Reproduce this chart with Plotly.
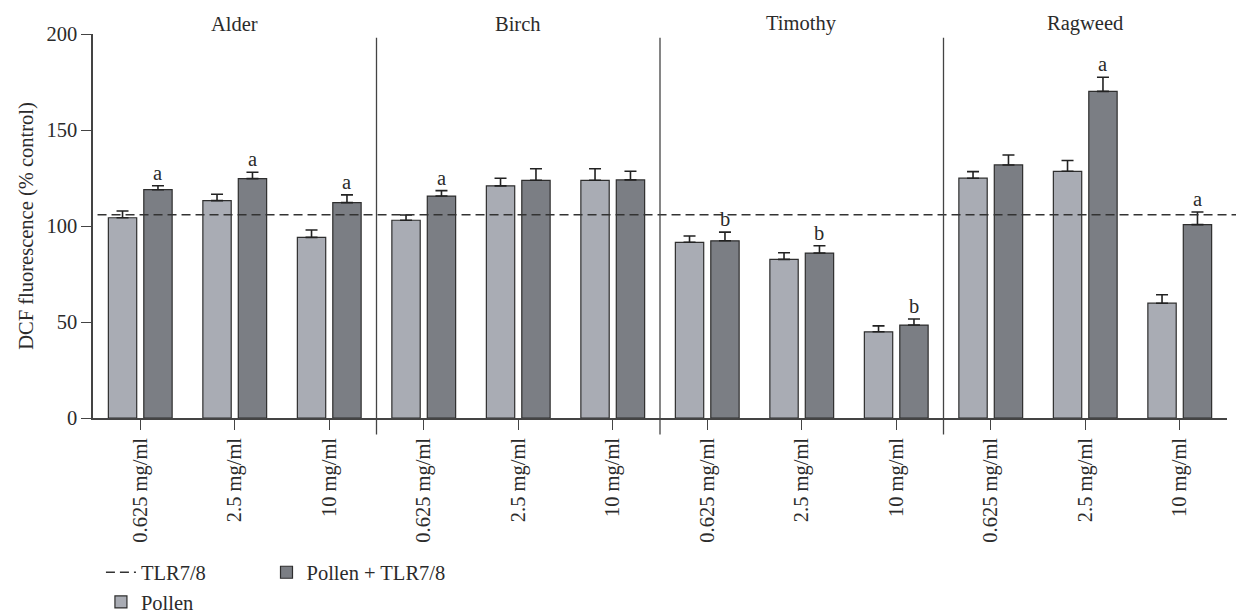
import plotly.graph_objects as go

# ---------------- data ----------------
allergens = ["Alder", "Birch", "Timothy", "Ragweed"]
doses = ["0.625 mg/ml", "2.5 mg/ml", "10 mg/ml"]

pollen_vals = [104.3, 113.2, 94.1,   103.0, 120.9, 123.8,   91.5, 82.6, 44.9,   124.9, 128.5, 59.8]
pollen_err  = [3.5,   3.3,   3.8,    2.7,   4.0,   6.0,     3.3,  3.5,  3.1,    3.4,   5.6,   4.4]
combo_vals  = [118.9, 124.7, 112.2,  115.6, 123.8, 124.0,   92.3, 85.9, 48.4,   131.8, 170.1, 100.7]
combo_err   = [2.1,   3.3,   4.0,    2.8,   6.0,   4.5,     4.5,  3.8,  3.2,    5.2,   7.4,   6.6]
combo_sig   = ["a", "a", "a",  "a", "", "",  "b", "b", "b",  "", "a", "a"]
tlr_value = 105.8

tick_labels = [d for _ in allergens for d in doses]
xpos = list(range(len(tick_labels)))

FONT = "Liberation Serif"
FS = 20.5
TXT = "#2b2b2b"
LIGHT = "#a9acb4"
DARK = "#7b7e84"
EDGE = "#2e2e2e"

fig = go.Figure()

fig.add_trace(go.Bar(
    x=xpos, y=pollen_vals, name="Pollen",
    marker=dict(color=LIGHT, line=dict(color=EDGE, width=1.2)),
    error_y=dict(type="data", array=pollen_err, arrayminus=[0]*len(pollen_err),
                 symmetric=False, color="#222", thickness=1.6, width=6),
    legend="legend", legendrank=2,
))
fig.add_trace(go.Bar(
    x=xpos, y=combo_vals, name="Pollen + TLR7/8",
    marker=dict(color=DARK, line=dict(color=EDGE, width=1.2)),
    error_y=dict(type="data", array=combo_err, arrayminus=[0]*len(combo_err),
                 symmetric=False, color="#222", thickness=1.6, width=6),
    legend="legend2",
))
fig.add_trace(go.Scatter(
    x=[None], y=[None], mode="lines", name="TLR7/8",
    line=dict(color="#333", width=1.5, dash="9px,5px"),
    legend="legend", legendrank=1,
))

# TLR7/8 reference line
fig.add_shape(type="line", xref="paper", yref="y", x0=0.004, x1=1.03,
              y0=tlr_value, y1=tlr_value,
              line=dict(color="#333", width=1.5, dash="9px,5px"), layer="above")

# group separators
for k in range(1, len(allergens)):
    xs = k * len(doses) - 0.5
    fig.add_shape(type="line", xref="x", yref="paper", x0=xs, x1=xs,
                  y0=-0.043, y1=0.99, line=dict(color="#444", width=1.3))

# group titles
for k, name in enumerate(allergens):
    fig.add_annotation(x=k * len(doses) + 1, y=1.0, xref="x", yref="paper",
                       text=name, showarrow=False, yanchor="bottom", yshift=-3,
                       font=dict(family=FONT, size=FS, color=TXT))

# significance letters
for i, s in enumerate(combo_sig):
    if s:
        fig.add_annotation(x=i + 0.1875, y=combo_vals[i] + combo_err[i],
                           xref="x", yref="y", text=s, showarrow=False,
                           yanchor="middle", yshift=13,
                           font=dict(family=FONT, size=FS, color=TXT))

fig.update_layout(
    width=1244, height=616,
    margin=dict(l=85, r=25, t=26, b=206, autoexpand=False),
    paper_bgcolor="white", plot_bgcolor="white",
    barmode="group", bargap=0.25, bargroupgap=0.2,
    font=dict(family=FONT, size=FS, color=TXT),
    legend=dict(x=0.007, y=-0.350, xanchor="left", yanchor="top",
                orientation="v", font=dict(family=FONT, size=FS, color=TXT),
                bgcolor="rgba(0,0,0,0)", tracegroupgap=0, itemwidth=30),
    legend2=dict(x=0.153, y=-0.350, xanchor="left", yanchor="top",
                 orientation="v", font=dict(family=FONT, size=FS, color=TXT),
                 bgcolor="rgba(0,0,0,0)", itemwidth=30),
    xaxis=dict(range=[-0.5, len(xpos) - 0.5], tickmode="array",
               tickvals=xpos, ticktext=tick_labels, tickangle=-90,
               ticks="outside", ticklen=10, tickwidth=1.3, tickcolor="#444",
               showline=True, linecolor="#444", linewidth=1.5,
               showgrid=False, zeroline=False, automargin=False,
               tickfont=dict(family=FONT, size=FS, color=TXT)),
    yaxis=dict(range=[0, 200], tickvals=[0, 50, 100, 150, 200],
               ticks="outside", ticklen=10, tickwidth=1.3, tickcolor="#444",
               showline=True, linecolor="#444", linewidth=1.5,
               showgrid=False, zeroline=False, automargin=False,
               title=dict(text="DCF fluorescence (% control)",
                          font=dict(family=FONT, size=FS, color=TXT), standoff=7),
               tickfont=dict(family=FONT, size=FS, color=TXT)),
    showlegend=True,
)

fig.write_html("out.html")
